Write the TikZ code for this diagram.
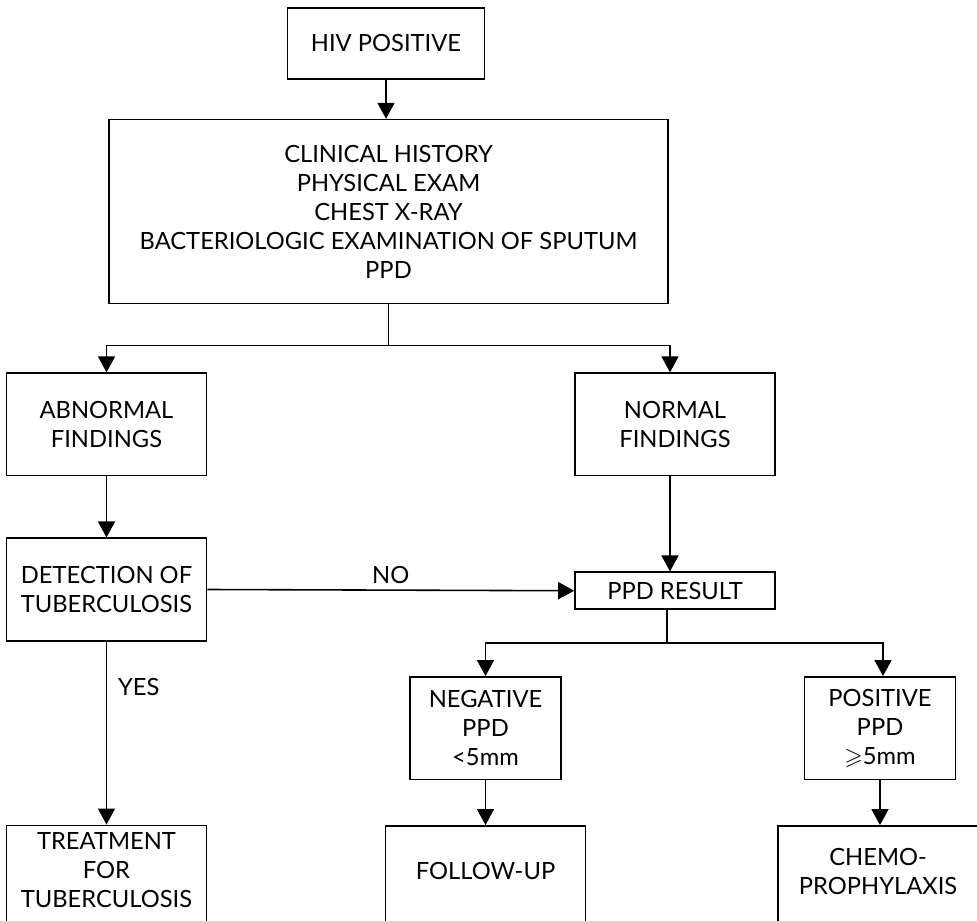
\documentclass[tikz,border=0pt]{standalone}
\usepackage{amssymb}
\usepackage{fontspec}
\setmainfont{Lato}
\usepackage{tikz}
\usetikzlibrary{positioning}
\usetikzlibrary{arrows.meta}

\tikzset{
  box/.style={draw, line width=0.9pt, align=center, minimum width=4cm, minimum height=2.05cm,
    font=\fontsize{13.5}{16.5}\selectfont},
  endbox/.style={box, minimum height=2.5cm, text depth=0.7cm},
  arr/.style={-{Triangle[length=0.32cm,width=0.34cm]}, line width=0.9pt}
}

\begin{document}
\begin{tikzpicture}
        \clip (0,0) rectangle (19.54,-18.42);
        % boxes
        \node[box, minimum width=3.94cm, minimum height=1.42cm] (Hiv) at (7.72,-0.87) {HIV POSITIVE};
        \node[box, minimum width=11.18cm, minimum height=3.68cm, below=0.78cm of Hiv, xshift=0.05cm] (Exam)
          {CLINICAL HISTORY\\PHYSICAL EXAM\\CHEST X-RAY\\BACTERIOLOGIC EXAMINATION OF SPUTUM\\PPD};
        \node[box, below=1.36cm of Exam, xshift=-5.64cm] (Abn) {ABNORMAL\\FINDINGS};
        \node[box, below=1.36cm of Exam, xshift=5.73cm] (Norm) {NORMAL\\FINDINGS};
        \node[box, below=1.22cm of Abn] (Det) {DETECTION OF\\TUBERCULOSIS};
        \node[box, minimum height=0.74cm, below=1.9cm of Norm] (Res) {PPD RESULT};
        \node[box, minimum width=3.02cm, below=1.32cm of Res, xshift=-3.79cm] (Neg) {NEGATIVE\\PPD\\<5mm};
        \node[box, minimum width=3.02cm, below=1.32cm of Res, xshift=4.1cm] (Pos) {POSITIVE\\PPD\\$\geqslant$5mm};
        \node[endbox, below=3.66cm of Det] (Trt) {TREATMENT\\FOR\\TUBERCULOSIS};
        \node[endbox, below=0.9cm of Neg] (Fol) {FOLLOW-UP};
        \node[endbox, right=3.82cm of Fol] (Chem) {CHEMO-\\PROPHYLAXIS};

        % split points
        \path (Exam.south) ++(0,-0.82) coordinate (S1);
        \path (Res.south) ++(-0.16,-0.66) coordinate (S2);

        % edges
        \draw[arr] (Hiv.south) -- (Hiv.south |- Exam.north);
        \draw[line width=0.9pt] (Exam.south) -- (S1);
        \draw[arr] (S1) -| (Abn.north);
        \draw[arr] (S1) -| ([xshift=-0.1cm]Norm.north);
        \draw[arr] (Abn) -- (Det);
        \draw[arr] ([xshift=-0.1cm]Norm.south) -- ([xshift=-0.1cm]Res.north);
        \draw[arr] (Det.east) -- node[above] {\fontsize{13.5}{16.5}\selectfont NO} (Res.west);
        \draw[arr] (Det) -- node[pos=0.25, right, xshift=0.1cm] {\fontsize{13.5}{16.5}\selectfont YES} (Trt);
        \draw[line width=0.9pt] (S2 |- Res.south) -- (S2);
        \draw[arr] (S2) -| (Neg.north);
        \draw[arr] (S2) -| ([xshift=0.06cm]Pos.north);
        \draw[arr] (Neg) -- (Fol);
        \draw[arr] (Pos) -- (Pos |- Chem.north);
\end{tikzpicture}
\end{document}
